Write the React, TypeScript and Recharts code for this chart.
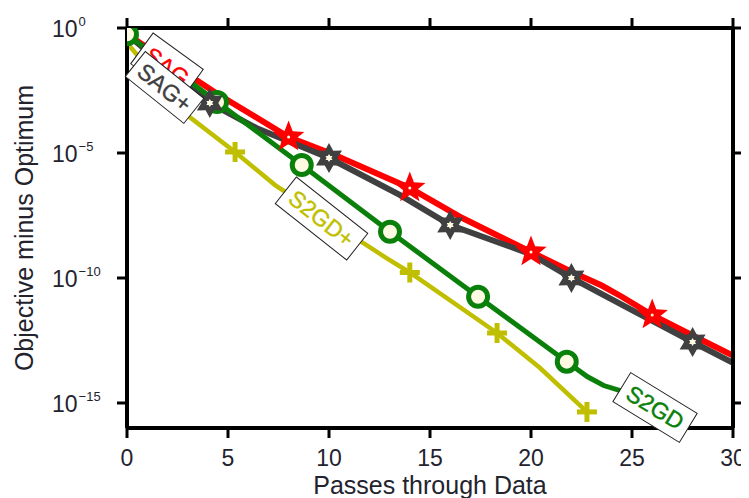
import React from 'react';
import { LineChart, Line, XAxis, YAxis, ReferenceDot } from 'recharts';

const FONT = '"Liberation Sans", Arial, sans-serif';
const TXT = '#23232e';

const RED = '#ff0000';
const GRAY = '#404040';
const GREEN = '#0a800a';
const OLIVE = '#bfbf00';
const CREAM = '#fffbe3';

// axis ticks
const xTicks = [0, 5, 10, 15, 20, 25, 30];
const yTicks = [1, 1e-5, 1e-10, 1e-15];
const yTickExponents = ['0', '\u22125', '\u221210', '\u221215'];

// SAG (red, 5-point stars)
const sagPasses = [0, 2, 4.5, 8, 10.2, 14, 16.6, 20, 22, 23.5, 24.5, 26, 28, 30];
const sagGap = [5.6e-1, 4.8e-2, 2.24e-3, 4.37e-5, 8.9e-6, 3.98e-7, 2.51e-8, 1.1e-9, 1.78e-10, 5.0e-11, 1.78e-11, 3.31e-12, 5.0e-13, 7.9e-14];
const sagMarkers = [8, 14, 20, 26];

// SAG+ (dark grey, 6-point stars)
const sagPlusPasses = [0, 4.1, 6.4, 10, 13.5, 16, 20, 22, 25, 28, 30];
const sagPlusGap = [5.6e-1, 1.0e-3, 1.0e-4, 6.3e-6, 2.1e-7, 1.32e-8, 8.9e-10, 1.0e-10, 5.2e-12, 2.75e-13, 4.0e-14];
const sagPlusMarkers = [4.1, 10, 16, 22, 28];

// S2GD (green, circles)
const s2gdPasses = [0, 4.46, 8.65, 13.02, 17.38, 21.77, 22.8, 23.6, 24.5];
const s2gdGap = [5.6e-1, 1.1e-3, 3.3e-6, 7.1e-9, 1.78e-11, 4.5e-14, 1.12e-14, 5.0e-15, 3.0e-15];
const s2gdMarkers = [0, 4.46, 8.65, 13.02, 17.38, 21.77];

// S2GD+ (olive, plus markers)
const s2gdPlusPasses = [0, 3.1, 5.35, 7.33, 11.63, 12.77, 14, 18.32, 20.45, 22.77];
const s2gdPlusGap = [2.51e-1, 2.75e-4, 1.1e-5, 5.2e-7, 2.75e-9, 6.9e-10, 1.66e-10, 6.3e-13, 2.5e-14, 4.4e-16];
const s2gdPlusMarkers = [5.35, 14, 18.32, 22.77];

// in-plot labels
const labelTexts = ['SAG', 'SAG+', 'S2GD+', 'S2GD'];
const labelPasses = [1.98, 1.86, 9.63, 26.14];
const labelGaps = [2.86e-2, 4.2e-3, 2.4e-8, 6.6e-16];

const labelStyles = [
  { color: RED, w: 62, h: 38, angle: 36 },
  { color: GRAY, w: 75, h: 32, angle: 38.7 },
  { color: OLIVE, w: 91, h: 34, angle: 38.3 },
  { color: GREEN, w: 78, h: 34, angle: 31.5 },
];

const build = (xs: number[], ys: number[], marks: number[]) =>
  xs.map((x, i) => ({ x, y: ys[i], m: marks.includes(x) }));

const sagData = build(sagPasses, sagGap, sagMarkers);
const sagPlusData = build(sagPlusPasses, sagPlusGap, sagPlusMarkers);
const s2gdData = build(s2gdPasses, s2gdGap, s2gdMarkers);
const s2gdPlusData = build(s2gdPlusPasses, s2gdPlusGap, s2gdPlusMarkers);

function starPoints(cx: number, cy: number, n: number, ro: number, ri: number) {
  const pts: string[] = [];
  for (let i = 0; i < 2 * n; i++) {
    const r = i % 2 === 0 ? ro : ri;
    const a = ((-90 + (i * 180) / n) * Math.PI) / 180;
    pts.push(`${cx + r * Math.cos(a)},${cy + r * Math.sin(a)}`);
  }
  return pts.join(' ');
}

const RedStar = (p: any) => {
  const { cx, cy, payload } = p;
  if (!payload || !payload.m || cx == null) return <g />;
  return (
    <g>
      <polygon points={starPoints(cx, cy, 5, 16.5, 7)} fill={RED} />
      <circle cx={cx} cy={cy} r={1.5} fill={CREAM} />
    </g>
  );
};

const GrayStar = (p: any) => {
  const { cx, cy, payload } = p;
  if (!payload || !payload.m || cx == null) return <g />;
  return (
    <g>
      <polygon points={starPoints(cx, cy, 6, 15, 8.5)} fill={GRAY} />
      <polygon points={starPoints(cx, cy, 6, 4, 2.4)} fill={CREAM} />
    </g>
  );
};

const GreenCircle = (p: any) => {
  const { cx, cy, payload } = p;
  if (!payload || !payload.m || cx == null) return <g />;
  return <circle cx={cx} cy={cy} r={9.5} fill={CREAM} stroke={GREEN} strokeWidth={5} />;
};

const OlivePlus = (p: any) => {
  const { cx, cy, payload } = p;
  if (!payload || !payload.m || cx == null) return <g />;
  return (
    <g stroke={OLIVE} strokeWidth={5}>
      <line x1={cx - 10} y1={cy} x2={cx + 10} y2={cy} />
      <line x1={cx} y1={cy - 10} x2={cx} y2={cy + 10} />
    </g>
  );
};

const XTick = (p: any) => {
  const { x, y, payload } = p;
  return (
    <text x={x} y={y + 26} textAnchor="middle" fontSize={23} fill={TXT} fontFamily={FONT}>
      {payload.value}
    </text>
  );
};

const NoTick = () => <g />;

const YTick = (p: any) => {
  const { y, payload } = p;
  const idx = yTicks.findIndex((v) => Math.abs(Math.log10(v) - Math.log10(payload.value)) < 0.01);
  const sup = idx >= 0 ? yTickExponents[idx] : '';
  return (
    <text x={44} y={y + 8.5} fontSize={23} fill={TXT} fontFamily={FONT}>
      10
      <tspan dx={1} dy={-10.5} fontSize={13}>
        {sup}
      </tspan>
    </text>
  );
};

const XTitle = () => (
  <text x={422} y={486} textAnchor="middle" fontSize={25} fill={TXT} fontFamily={FONT}>
    Passes through Data
  </text>
);

const YTitle = () => (
  <text
    x={25}
    y={220}
    textAnchor="middle"
    fontSize={25}
    fill={TXT}
    fontFamily={FONT}
    transform="rotate(-90, 25, 220)"
  >
    Objective minus Optimum
  </text>
);

const makeLabel = (i: number) => (p: any) => {
  const { cx, cy } = p;
  if (cx == null) return <g />;
  const s = labelStyles[i];
  return (
    <g transform={`rotate(${s.angle}, ${cx}, ${cy})`}>
      <rect x={cx - s.w / 2} y={cy - s.h / 2} width={s.w} height={s.h} fill="#fff" stroke="#222" strokeWidth={1} />
      <text
        x={cx}
        y={cy + 8}
        textAnchor="middle"
        fontSize={23}
        fill={s.color}
        fontFamily={FONT}
        stroke={s.color}
        strokeWidth={0.4}
      >
        {labelTexts[i]}
      </text>
    </g>
  );
};

const axisLine = { stroke: '#000', strokeWidth: 4 };
const tickLine = { stroke: '#000', strokeWidth: 3 };

export default function App() {
  return (
    <div style={{ width: 741, height: 490 }}>
      <LineChart width={741} height={490} margin={{ top: 10, right: 6, left: 0, bottom: 0 }}>
        <XAxis
          xAxisId="b"
          type="number"
          dataKey="x"
          domain={[0, 30]}
          ticks={xTicks}
          interval={0}
          allowDataOverflow
          height={70}
          tickSize={10}
          axisLine={axisLine}
          tickLine={tickLine}
          tick={<XTick />}
          label={<XTitle />}
        />
        <XAxis
          xAxisId="t"
          orientation="top"
          type="number"
          dataKey="x"
          domain={[0, 30]}
          ticks={xTicks}
          interval={0}
          allowDataOverflow
          height={10}
          tickSize={10}
          axisLine={axisLine}
          tickLine={tickLine}
          tick={<NoTick />}
        />
        <YAxis
          yAxisId="l"
          type="number"
          scale="log"
          domain={[1e-16, 1]}
          ticks={yTicks}
          interval={0}
          allowDataOverflow
          width={119}
          tickSize={10}
          axisLine={axisLine}
          tickLine={tickLine}
          tick={<YTick />}
          label={<YTitle />}
        />
        <YAxis
          yAxisId="r"
          orientation="right"
          type="number"
          scale="log"
          domain={[1e-16, 1]}
          ticks={yTicks}
          interval={0}
          allowDataOverflow
          width={10}
          tickSize={10}
          axisLine={axisLine}
          tickLine={tickLine}
          tick={<NoTick />}
        />

        <Line xAxisId="t" yAxisId="r" data={sagData} dataKey="y" stroke="none" dot={false} activeDot={false} isAnimationActive={false} />

        <Line xAxisId="b" yAxisId="l" data={sagData} dataKey="y" stroke={RED} strokeWidth={6} dot={false} isAnimationActive={false} />
        <Line xAxisId="b" yAxisId="l" data={sagPlusData} dataKey="y" stroke={GRAY} strokeWidth={6} dot={false} isAnimationActive={false} />
        <Line xAxisId="b" yAxisId="l" data={s2gdData} dataKey="y" stroke={GREEN} strokeWidth={5} dot={false} isAnimationActive={false} />
        <Line xAxisId="b" yAxisId="l" data={s2gdPlusData} dataKey="y" stroke={OLIVE} strokeWidth={4.5} dot={false} isAnimationActive={false} />

        <Line xAxisId="b" yAxisId="l" data={s2gdPlusData} dataKey="y" stroke="none" dot={OlivePlus} activeDot={false} isAnimationActive={false} />
        <Line xAxisId="b" yAxisId="l" data={s2gdData} dataKey="y" stroke="none" dot={GreenCircle} activeDot={false} isAnimationActive={false} />
        <Line xAxisId="b" yAxisId="l" data={sagData} dataKey="y" stroke="none" dot={RedStar} activeDot={false} isAnimationActive={false} />
        <Line xAxisId="b" yAxisId="l" data={sagPlusData} dataKey="y" stroke="none" dot={GrayStar} activeDot={false} isAnimationActive={false} />

        {labelTexts.map((t, i) => (
          <ReferenceDot
            key={t}
            xAxisId="b"
            yAxisId="l"
            x={labelPasses[i]}
            y={labelGaps[i]}
            ifOverflow="visible"
            shape={makeLabel(i)}
          />
        ))}
      </LineChart>
    </div>
  );
}
